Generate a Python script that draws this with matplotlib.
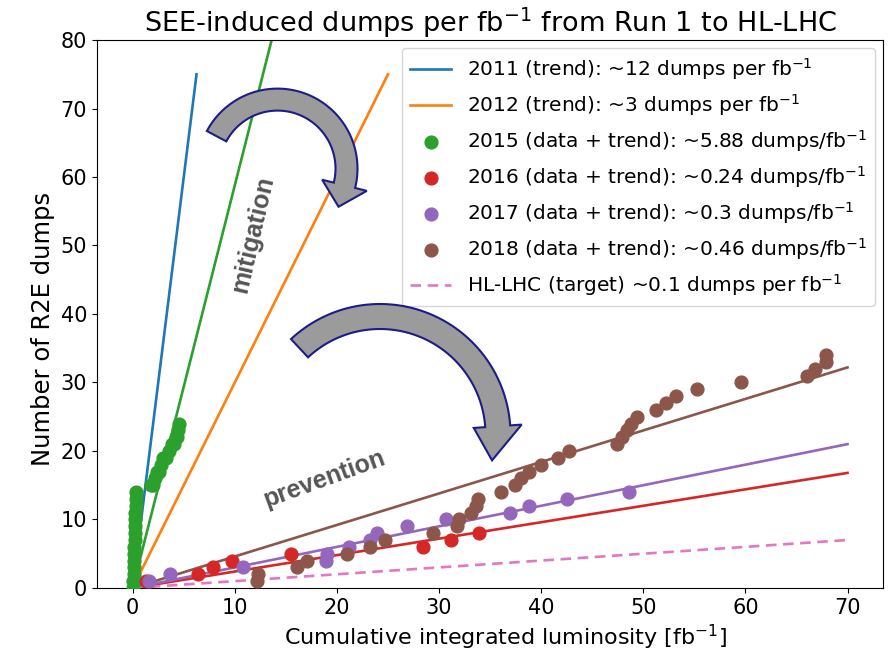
import numpy as np
import matplotlib
matplotlib.use("Agg")
import matplotlib.pyplot as plt
from matplotlib.patches import Polygon

# ---- data -------------------------------------------------------------
slope_2011 = 12.0
slope_2012 = 3.0
slope_2015 = 5.88
slope_2016 = 0.24
slope_2017 = 0.30
slope_2018 = 0.46
slope_hllhc = 0.10

end_2011 = 6.25
end_2012 = 25.0
end_run2 = 70.0

lumi_2015 = [0.05, 0.07, 0.09, 0.11, 0.13, 0.15, 0.17, 0.19, 0.21, 0.23,
             0.25, 0.27, 0.29, 0.31, 0.33,
             1.8, 2.0, 2.2, 2.4, 2.6, 2.8, 3.0, 3.3, 3.6, 3.8, 4.0, 4.2,
             4.3, 4.4, 4.5]
dumps_2015 = [0, 1, 2, 3, 4, 5, 6, 7, 8, 9, 10, 11, 12, 13, 14,
              15, 15, 16, 17, 17, 18, 19, 19, 20, 21, 21, 22, 22, 23, 24]

lumi_2016 = [1.3, 6.4, 7.9, 9.7, 15.5, 28.4, 31.2, 33.9]
dumps_2016 = [1, 2, 3, 4, 5, 6, 7, 8]

lumi_2017 = [1.6, 3.7, 10.8, 18.9, 19.0, 21.2, 23.2, 23.9, 26.9, 30.7,
             36.9, 38.8, 42.5, 48.6]
dumps_2017 = [1, 2, 3, 4, 5, 6, 7, 8, 9, 10, 11, 12, 13, 14]

lumi_2018 = [12.2, 12.3, 16.1, 17.1, 21.0, 23.2, 24.7, 29.4, 31.8, 32.0,
             33.1, 33.6, 33.8, 36.1, 37.4, 38.0, 38.8, 40.0, 41.6, 42.7,
             47.4, 47.9, 48.4, 48.8, 49.4, 51.2, 52.2, 53.2, 55.3, 59.6,
             66.0, 66.8, 67.9, 67.9]
dumps_2018 = list(range(1, 35))

labels = [
    "2011 (trend): ~12 dumps per fb$^{-1}$",
    "2012 (trend): ~3 dumps per fb$^{-1}$",
    "2015 (data + trend): ~5.88 dumps/fb$^{-1}$",
    "2016 (data + trend): ~0.24 dumps/fb$^{-1}$",
    "2017 (data + trend): ~0.3 dumps/fb$^{-1}$",
    "2018 (data + trend): ~0.46 dumps/fb$^{-1}$",
    "HL-LHC (target) ~0.1 dumps per fb$^{-1}$",
]

C_BLUE, C_ORANGE, C_GREEN = "#1f77b4", "#ff7f0e", "#2ca02c"
C_RED, C_PURPLE, C_BROWN, C_PINK = "#d62728", "#9467bd", "#8c564b", "#e377c2"

# ---- figure -----------------------------------------------------------
fig = plt.figure(figsize=(8.92, 6.56), dpi=100)
ax = fig.add_axes([0.1087, 0.1037, 0.8815, 0.8353])

LW = 1.9
MS = 85


def trend(x_end, slope, **kw):
    xs = np.array([0.0, x_end])
    return ax.plot(xs, slope * xs, lw=LW, **kw)[0]


h11 = trend(end_2011, slope_2011, color=C_BLUE)
h12 = trend(end_2012, slope_2012, color=C_ORANGE)
trend(end_run2, slope_2015, color=C_GREEN)
trend(end_run2, slope_2016, color=C_RED)
trend(end_run2, slope_2017, color=C_PURPLE)
trend(end_run2, slope_2018, color=C_BROWN)
hhl = trend(end_run2, slope_hllhc, color=C_PINK, ls=(0, (4, 2.5)))

h15 = ax.scatter(lumi_2015, dumps_2015, s=MS, color=C_GREEN, zorder=3)
h16 = ax.scatter(lumi_2016, dumps_2016, s=MS, color=C_RED, zorder=3)
h17 = ax.scatter(lumi_2017, dumps_2017, s=MS, color=C_PURPLE, zorder=3)
h18 = ax.scatter(lumi_2018, dumps_2018, s=MS, color=C_BROWN, zorder=3)

ax.set_xlim(-3.5, 73.5)
ax.set_ylim(0, 80)
ax.set_xticks(range(0, 71, 10))
ax.set_yticks(range(0, 81, 10))
ax.tick_params(labelsize=15)
ax.set_xlabel("Cumulative integrated luminosity [fb$^{-1}$]", fontsize=16)
ax.set_ylabel("Number of R2E dumps", fontsize=17.5)
ax.xaxis.label.set_x(0.52)
ax.yaxis.label.set_y(0.473)
ax.set_title("SEE-induced dumps per fb$^{-1}$ from Run 1 to HL-LHC",
             fontsize=19.5)

ax.legend([h11, h12, h15, h16, h17, h18, hhl], labels, loc="upper right",
          fontsize=14.5, labelspacing=0.5, handlelength=2.0,
          borderaxespad=0.4)


# ---- curved block arrows (figure inches) ------------------------------
def curved_arrow(cx, cy, r, width, t0, t1, t_tip, head_w, r_tip=None):
    r_tip = r if r_tip is None else r_tip
    ang = np.radians(np.linspace(t0, t1, 60))
    outer = np.c_[cx + (r + width / 2) * np.cos(ang),
                  cy + (r + width / 2) * np.sin(ang)]
    inner = np.c_[cx + (r - width / 2) * np.cos(ang[::-1]),
                  cy + (r - width / 2) * np.sin(ang[::-1])]
    th = np.radians(t1)
    tt = np.radians(t_tip)
    head = np.array([
        [cx + (r + head_w / 2) * np.cos(th), cy + (r + head_w / 2) * np.sin(th)],
        [cx + r_tip * np.cos(tt), cy + r_tip * np.sin(tt)],
        [cx + (r - head_w / 2) * np.cos(th), cy + (r - head_w / 2) * np.sin(th)],
    ])
    pts = np.vstack([outer, head, inner])
    poly = Polygon(pts, closed=True, facecolor="#9b9b9b", edgecolor="#1c1c8a",
                   lw=1.5, transform=fig.dpi_scale_trans, zorder=5,
                   clip_on=False)
    fig.add_artist(poly)


curved_arrow(2.775, 4.874, 0.69, 0.22, 152, -14, -32, 0.46, r_tip=0.72)
curved_arrow(3.80, 2.215, 1.18, 0.25, 133, 4, -13, 0.48, r_tip=1.15)

ax.text(0.198, 0.645, "mitigation", transform=ax.transAxes, rotation=77,
        fontsize=18, fontweight="bold", color="#555555",
        family="Liberation Sans", ha="center", va="center", zorder=6)
ax.text(0.289, 0.2, "prevention", transform=ax.transAxes, rotation=20,
        fontsize=18, fontweight="bold", color="#555555",
        family="Liberation Sans", ha="center", va="center", zorder=6)

fig.savefig("out.png", dpi=100)
